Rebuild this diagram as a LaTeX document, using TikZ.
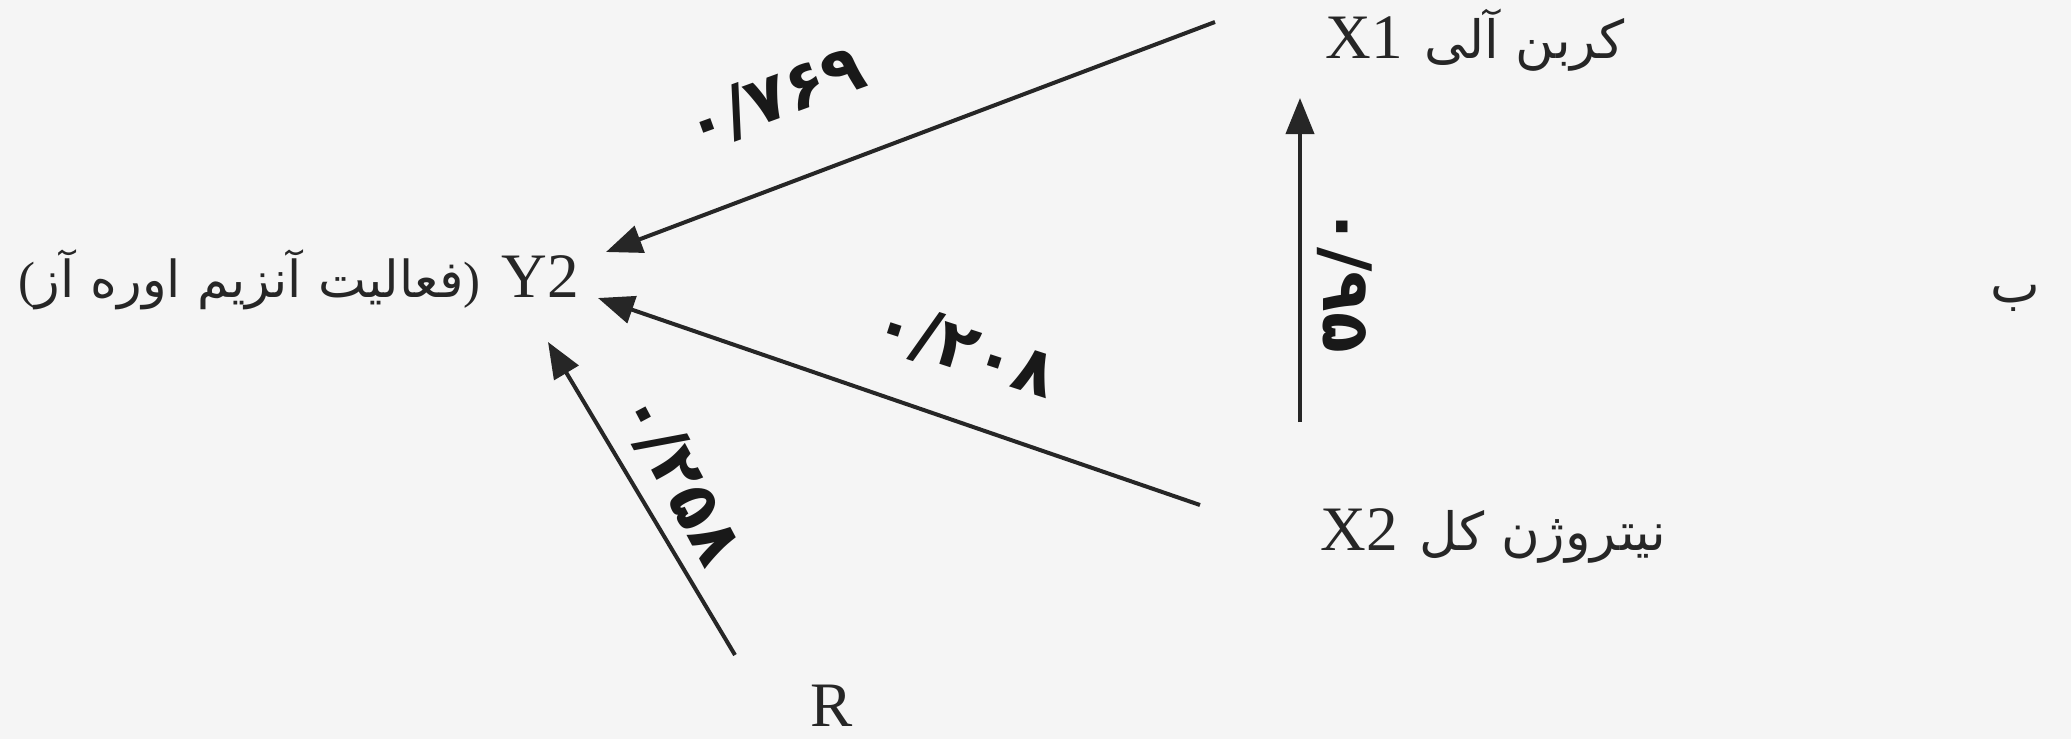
\documentclass[tikz,border=0pt]{standalone}
\usepackage{fontspec}
\setmainfont{Liberation Serif}
\newfontfamily\fa[Script=Arabic]{DejaVu Sans}
\TeXXeTstate=1
\usetikzlibrary{arrows.meta,positioning}

\begin{document}
\begin{tikzpicture}[
    x=0.01cm,y=-0.01cm,
    node distance=2mm,
    var/.style={inner sep=0pt,font=\fontsize{18}{22}\selectfont,text=black!85},
    desc/.style={inner sep=0pt,font=\fa\fontsize{15}{18}\selectfont,text=black!85},
    coef/.style={inner sep=0pt,font=\fa\bfseries\fontsize{19}{23}\selectfont,text=black!90},
    arr/.style={-{Triangle[length=3.6mm,width=2.8mm]},line width=0.4mm,draw=black!85}
  ]
  \fill[black!4] (0,0) rectangle (2071,739);
  \useasboundingbox (0,0) rectangle (2071,739);
  % variables
  \node[var,anchor=base east] (y2) at (580,297) {Y2};
  \node[desc,left=2mm of y2.base west,anchor=base east,font=\fa\fontsize{14.5}{18}\selectfont] (y2fa) {{\rmfamily(}\beginR فعالیت آنزیم اوره آز\endR{\rmfamily)}};
  \node[var,anchor=base west] (x1) at (1325,58) {X1};
  \node[desc,right=2mm of x1.base east,anchor=base west] (x1fa) {\beginR کربن آلی\endR};
  \node[var,anchor=base west] (x2) at (1320,550) {X2};
  \node[desc,right=2mm of x2.base east,anchor=base west] (x2fa) {\beginR نیتروژن کل\endR};
  \node[var,anchor=base west] (r) at (810,726) {R};
  \node[desc,anchor=base] (part) at (2015,302) {ب};
  % arrow ends
  \coordinate (x1s) at (1215,22);
  \coordinate (x2s) at (1200,505);
  \coordinate (x2v) at (1300,422);
  \coordinate (x1v) at (1300,98);
  \coordinate (rs) at (735,655);
  \coordinate (y2a) at (606,252);
  \coordinate (y2b) at (598,298);
  \coordinate (y2c) at (548,342);
  \draw[arr] (x1s) -- (y2a);
  \draw[arr] (x2s) -- (y2b);
  \draw[arr] (rs) -- (y2c);
  \draw[arr] (x2v) -- (x1v);
  % path coefficients
  \node[coef,rotate=20] (c1) at (775,98) {۰/۷۶۹};
  \node[coef,rotate=-90] (c2) at (1345,280) {۰/۹۵};
  \node[coef,rotate=-18] (c3) at (965,350) {۰/۲۰۸};
  \node[coef,rotate=-62] (c4) at (680,478) {۰/۲۵۸};
\end{tikzpicture}
\end{document}
